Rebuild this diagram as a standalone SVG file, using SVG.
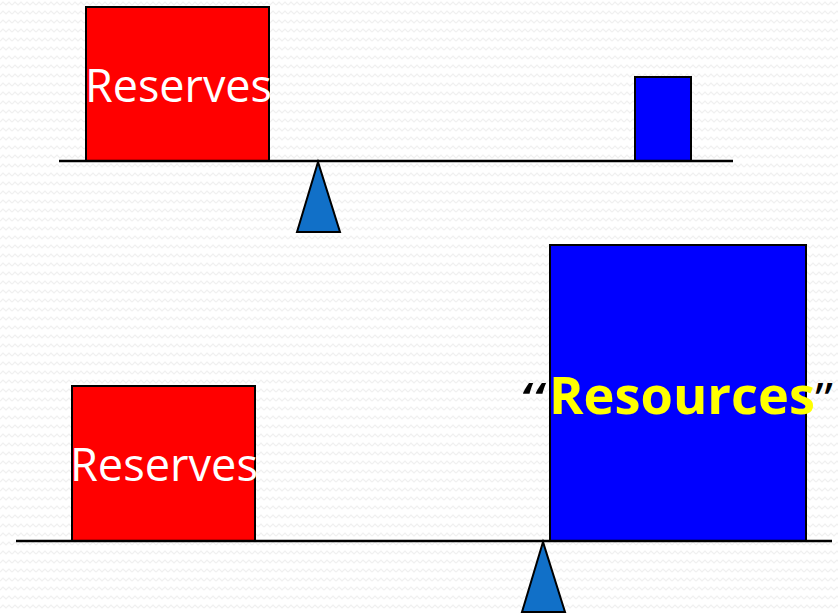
<svg xmlns="http://www.w3.org/2000/svg" width="838" height="613" viewBox="0 0 838 613">
  <defs>
    <pattern id="bg" width="12" height="9" patternUnits="userSpaceOnUse">
      <rect width="12" height="9" fill="#ffffff"/>
      <path d="M0 5 L3 2 L6 5 L9 2 L12 5" fill="none" stroke="#f0f0f0" stroke-width="1.2"/>
    </pattern>
  </defs>
  <style>
    .beam { stroke: #000; stroke-width: 2.5; fill: none; }
    .box { stroke: #000; stroke-width: 2; }
    .red { fill: #ff0000; }
    .blue { fill: #0000ff; }
    .fulcrum { fill: #1170c8; stroke: #000; stroke-width: 2; stroke-linejoin: miter; }
    .lbl { font-family: "Open Sans", "Liberation Sans", sans-serif; fill: #ffffff; font-size: 46px; }
    .res { font-family: "Open Sans", "Liberation Sans", sans-serif; font-weight: bold; font-size: 52px; fill: #ffff00; }
    .q { font-family: "Open Sans", "Liberation Sans", sans-serif; font-size: 44px; fill: #000; }
  </style>
  <rect width="838" height="613" fill="url(#bg)"/>

  <g id="top-reserves">
    <rect class="box red" x="86" y="7" width="183" height="154"/>
    <text class="lbl" x="85" y="102" textLength="187" lengthAdjust="spacingAndGlyphs">Reserves</text>
  </g>
  <g id="top-resources">
    <rect class="box blue" x="635" y="77" width="56" height="84"/>
  </g>
  <g id="top-fulcrum">
    <polygon class="fulcrum" points="318,162 297,232 340,232"/>
  </g>

  <g id="bottom-reserves">
    <rect class="box red" x="72" y="386" width="183" height="155"/>
    <text class="lbl" x="70" y="481" textLength="188" lengthAdjust="spacingAndGlyphs">Reserves</text>
  </g>
  <g id="bottom-resources">
    <rect class="box blue" x="550" y="245" width="256" height="296"/>
    <text class="q" x="522" y="414" textLength="25" lengthAdjust="spacingAndGlyphs">“</text>
    <text class="res" x="549" y="414" textLength="266" lengthAdjust="spacingAndGlyphs">Resources</text>
    <text class="q" x="815" y="414" textLength="18" lengthAdjust="spacingAndGlyphs">”</text>
  </g>
  <g id="bottom-fulcrum">
    <polygon class="fulcrum" points="543,542 522,612 565,612"/>
  </g>

  <g id="connectors">
    <line class="beam" x1="59" y1="161" x2="733" y2="161"/>
    <line class="beam" x1="16" y1="541" x2="832" y2="541"/>
  </g>
</svg>
